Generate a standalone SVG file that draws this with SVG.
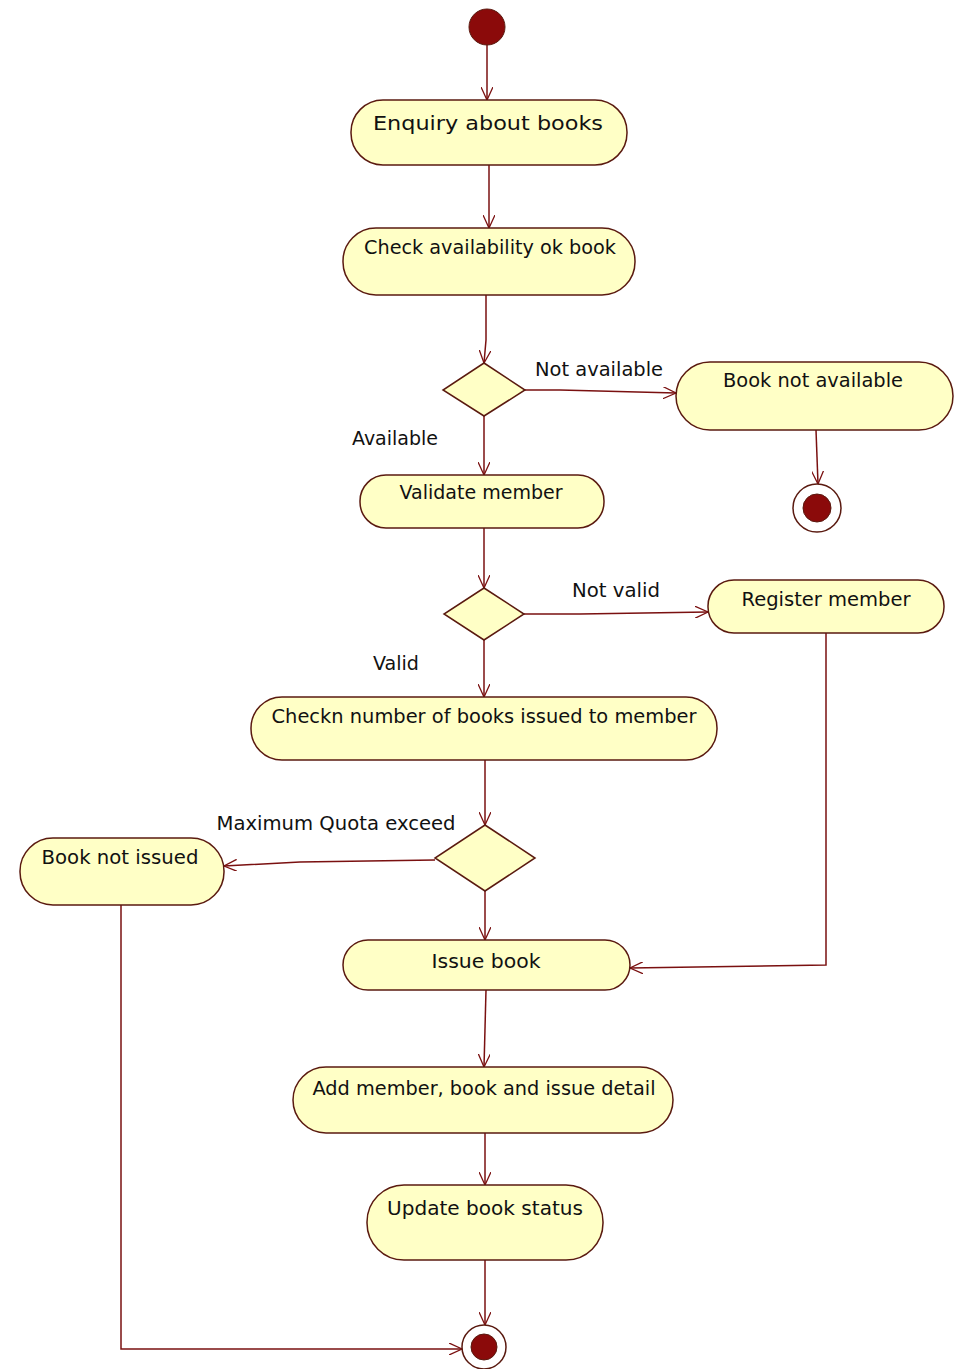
<svg xmlns="http://www.w3.org/2000/svg" width="959" height="1369" viewBox="0 0 959 1369">
  <style>
    .act { fill: #FFFFC6; stroke: #5A1A10; stroke-width: 1.5; }
    .dec { fill: #FFFFC6; stroke: #5A1A10; stroke-width: 1.5; }
    .lbl { font-family: "DejaVu Sans", "Liberation Sans", sans-serif; font-size: 19px; fill: #111; }
    .flow { fill: none; stroke: #7A1010; stroke-width: 1.5; }
    .dot { fill: #8B0A0A; stroke: #5A1A10; stroke-width: 1; }
    .ring { fill: #FFFFFF; stroke: #5A1A10; stroke-width: 1.5; }
  </style>
  <defs>
    <marker id="open" viewBox="0 0 14 12" refX="13" refY="6" markerWidth="14" markerHeight="12" markerUnits="userSpaceOnUse" orient="auto">
      <path d="M0,0 L13,6 L0,12" fill="none" stroke="#7A1010" stroke-width="1.3"/>
    </marker>
  </defs>
  <rect width="959" height="1369" fill="#FFFFFF"/>

  <!-- transitions -->
  <g id="connectors">
    <path class="flow" d="M487,44 L487,100" marker-end="url(#open)"/>
    <path class="flow" d="M489,165 L489,228" marker-end="url(#open)"/>
    <path class="flow" d="M486,295 L486,340 L484,363" marker-end="url(#open)"/>
    <path class="flow" d="M525,390 L560,390 L676,393" marker-end="url(#open)"/>
    <path class="flow" d="M816,430 L818,484" marker-end="url(#open)"/>
    <path class="flow" d="M484,416 L484,475" marker-end="url(#open)"/>
    <path class="flow" d="M484,528 L484,588" marker-end="url(#open)"/>
    <path class="flow" d="M524,614 L580,614 L708,612" marker-end="url(#open)"/>
    <path class="flow" d="M484,640 L484,697" marker-end="url(#open)"/>
    <path class="flow" d="M485,760 L485,825" marker-end="url(#open)"/>
    <path class="flow" d="M435,860 L300,862 L224,866" marker-end="url(#open)"/>
    <path class="flow" d="M485,891 L485,940" marker-end="url(#open)"/>
    <path class="flow" d="M826,633 L826,965 L630,968" marker-end="url(#open)"/>
    <path class="flow" d="M486,990 L484,1067" marker-end="url(#open)"/>
    <path class="flow" d="M485,1133 L485,1185" marker-end="url(#open)"/>
    <path class="flow" d="M485,1260 L485,1325" marker-end="url(#open)"/>
    <path class="flow" d="M121,905 L121,1349 L462,1349" marker-end="url(#open)"/>
  </g>

  <g id="start">
    <circle class="dot" cx="487" cy="27" r="18"/>
  </g>

  <g id="enquiry">
    <rect class="act" x="351" y="100" width="276" height="65" rx="32" ry="32"/>
    <text class="lbl" x="488" y="130" text-anchor="middle" textLength="230" lengthAdjust="spacingAndGlyphs">Enquiry about books</text>
  </g>

  <g id="check-availability">
    <rect class="act" x="343" y="228" width="292" height="67" rx="33" ry="33"/>
    <text class="lbl" x="490" y="254" text-anchor="middle" textLength="252" lengthAdjust="spacingAndGlyphs">Check availability ok book</text>
  </g>

  <g id="decision-availability">
    <polygon class="dec" points="484,363 525,390 484,416 443,390"/>
  </g>
  <text class="lbl" x="599" y="376" text-anchor="middle" textLength="128" lengthAdjust="spacingAndGlyphs">Not available</text>
  <text class="lbl" x="395" y="445" text-anchor="middle" textLength="86" lengthAdjust="spacingAndGlyphs">Available</text>

  <g id="book-not-available">
    <rect class="act" x="676" y="362" width="277" height="68" rx="34" ry="34"/>
    <text class="lbl" x="813" y="387" text-anchor="middle" textLength="180" lengthAdjust="spacingAndGlyphs">Book not available</text>
  </g>

  <g id="end-unavailable">
    <circle class="ring" cx="817" cy="508" r="24"/>
    <circle class="dot" cx="817" cy="508" r="14"/>
  </g>

  <g id="validate-member">
    <rect class="act" x="360" y="475" width="244" height="53" rx="26" ry="26"/>
    <text class="lbl" x="481" y="499" text-anchor="middle" textLength="163" lengthAdjust="spacingAndGlyphs">Validate member</text>
  </g>

  <g id="decision-valid">
    <polygon class="dec" points="484,588 524,614 484,640 444,614"/>
  </g>
  <text class="lbl" x="616" y="597" text-anchor="middle" textLength="88" lengthAdjust="spacingAndGlyphs">Not valid</text>
  <text class="lbl" x="396" y="670" text-anchor="middle" textLength="46" lengthAdjust="spacingAndGlyphs">Valid</text>

  <g id="register-member">
    <rect class="act" x="708" y="580" width="236" height="53" rx="26" ry="26"/>
    <text class="lbl" x="826" y="606" text-anchor="middle" textLength="169" lengthAdjust="spacingAndGlyphs">Register member</text>
  </g>

  <g id="check-issued-count">
    <rect class="act" x="251" y="697" width="466" height="63" rx="31" ry="31"/>
    <text class="lbl" x="484" y="723" text-anchor="middle" textLength="425" lengthAdjust="spacingAndGlyphs">Checkn number of books issued to member</text>
  </g>

  <g id="decision-quota">
    <polygon class="dec" points="485,825 535,858 485,891 435,858"/>
  </g>
  <text class="lbl" x="336" y="830" text-anchor="middle" textLength="239" lengthAdjust="spacingAndGlyphs">Maximum Quota exceed</text>

  <g id="book-not-issued">
    <rect class="act" x="20" y="838" width="204" height="67" rx="33" ry="33"/>
    <text class="lbl" x="120" y="864" text-anchor="middle" textLength="157" lengthAdjust="spacingAndGlyphs">Book not issued</text>
  </g>

  <g id="issue-book">
    <rect class="act" x="343" y="940" width="287" height="50" rx="25" ry="25"/>
    <text class="lbl" x="486" y="968" text-anchor="middle" textLength="109" lengthAdjust="spacingAndGlyphs">Issue book</text>
  </g>

  <g id="add-details">
    <rect class="act" x="293" y="1067" width="380" height="66" rx="33" ry="33"/>
    <text class="lbl" x="484" y="1095" text-anchor="middle" textLength="343" lengthAdjust="spacingAndGlyphs">Add member, book and issue detail</text>
  </g>

  <g id="update-status">
    <rect class="act" x="367" y="1185" width="236" height="75" rx="37" ry="37"/>
    <text class="lbl" x="485" y="1215" text-anchor="middle" textLength="196" lengthAdjust="spacingAndGlyphs">Update book status</text>
  </g>

  <g id="end-final">
    <circle class="ring" cx="484" cy="1347" r="22"/>
    <circle class="dot" cx="484" cy="1347" r="13"/>
  </g>
</svg>
